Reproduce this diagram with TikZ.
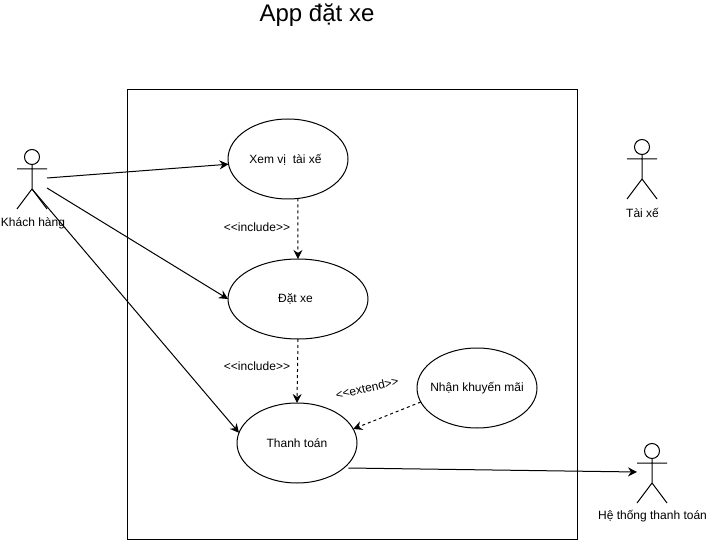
\documentclass[tikz,border=0pt]{standalone}
\usepackage{fontspec}
\setmainfont{Liberation Sans}[Ligatures=NoCommon]
\usetikzlibrary{arrows.meta,shapes.geometric}
\tikzset{
  x=1pt,y=-1pt,
  usecase/.style={draw=black,fill=white,ellipse,line width=1pt,minimum width=#1,minimum height=80pt,inner sep=0pt,outer sep=0pt},
  usecase/.default=120pt,
  lbl/.style={inner sep=0pt,font=\fontsize{12}{14}\selectfont},
  assoc/.style={draw=black,line width=1pt,-{Stealth[length=9pt,width=9pt,inset=3pt]}},
  dep/.style={assoc,dash pattern=on 3pt off 3pt},
  pics/actor/.style={code={
    \draw[black,line width=1pt] (0,0) circle[radius=7.5pt];
    \draw[black,line width=1pt,line cap=butt] (0,7.5) -- (0,32) (-15,12) -- (15,12) (-15,52) -- (0,32) -- (15,52);
    \coordinate (-crotch) at (0,32);
  }}
}
\begin{document}
\begin{tikzpicture}
\useasboundingbox (0,0) rectangle (707,540);
\node[inner sep=0pt,font=\fontsize{24}{28}\selectfont] (title) at (317,15) {App đặt xe};
\node[draw=black,line width=1pt,minimum width=450pt,minimum height=450pt,inner sep=0pt,outer sep=0pt] (sys) at (352.5,314.5) {};

\node[usecase] (xem) at (288,159) {};
\node[usecase=140pt] (dat) at (298,299) {};
\node[usecase] (tt) at (297,443) {};
\node[usecase] (km) at (477,388) {};
\node[lbl] (xemt) at (285.5,159.5) {Xem vị\ \ tài xế};
\node[lbl] (datt) at (295.5,299) {Đặt xe};
\node[lbl] (ttt) at (297,443) {Thanh toán};
\node[lbl] (kmt) at (477,388) {Nhận khuyến mãi};

\pic (kh) at (32,157) {actor};
\pic (tx) at (642,147) {actor};
\pic (ht) at (652,451) {actor};
\node[lbl] (khl) at (33,223) {Khách hàng};
\node[lbl] (txl) at (642.5,212.5) {Tài xế};
\node[lbl] (htl) at (652.5,516.5) {Hệ thống thanh toán};

\coordinate (kha) at (47,178);
\coordinate (khb) at (47,188);
\coordinate (hta) at (637,472);

\draw[assoc] (kha) -- (xem.185);
\draw[assoc] (khb) -- (dat.west);
\draw[assoc] (kh-crotch) -- (tt.170);
\draw[assoc,shorten <=4.4pt] (tt.332) -- (hta);
\draw[dep] (xem.284) -- (dat.north);
\draw[dep] (dat.south) -- (tt.north);
\draw[dep] (km.194.5) -- (tt.14.7);

\node[lbl] (inc1) at (257,227) {{<}{<}include{>}{>}};
\node[lbl] (inc2) at (257,366.5) {{<}{<}include{>}{>}};
\node[lbl,rotate=13] (ext) at (367,388) {{<}{<}extend{>}{>}};
\end{tikzpicture}
\end{document}
